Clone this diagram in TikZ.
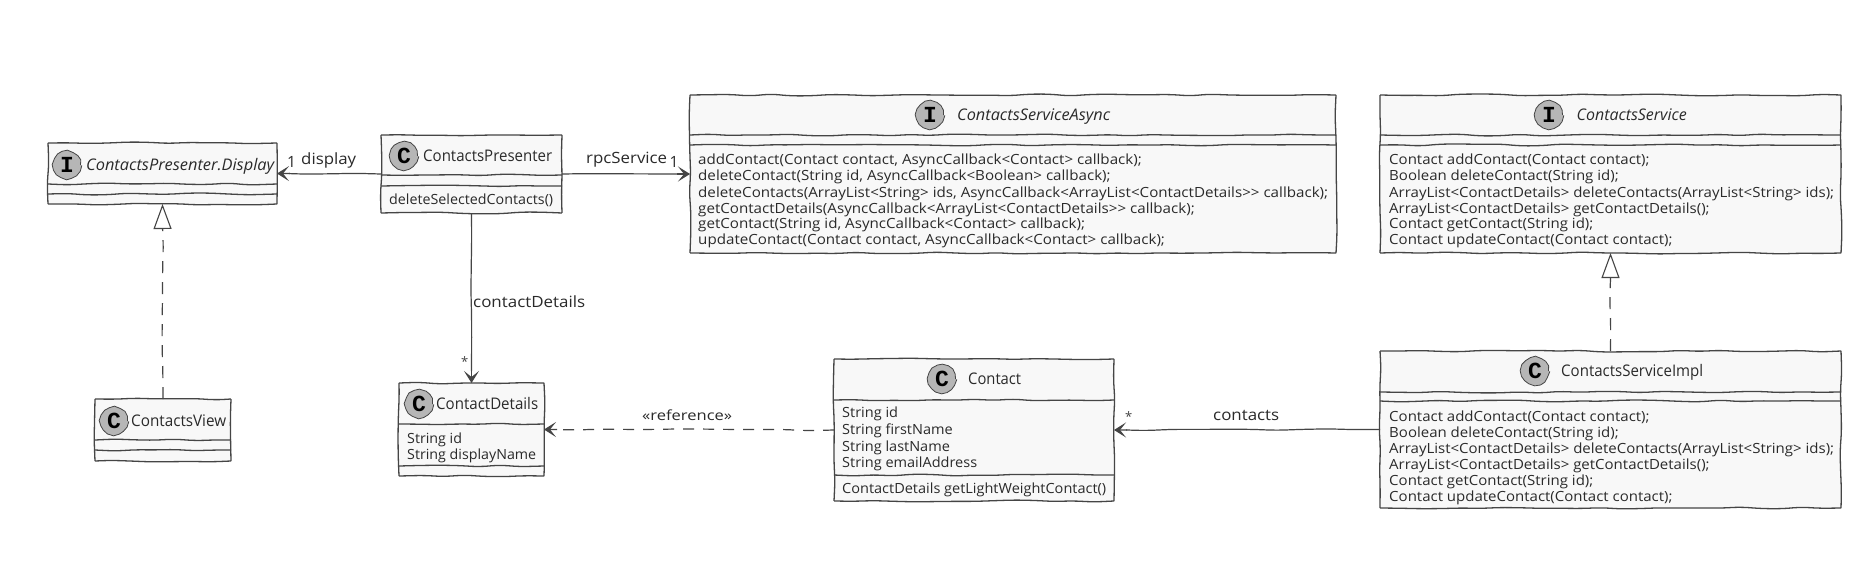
\documentclass[tikz,border=0pt]{standalone}
\usepackage{fontspec}
\usepackage{graphicx}
\setmainfont{Open Sans}
\newfontfamily\iconfont{Liberation Mono}
\usetikzlibrary{arrows.meta,decorations.pathmorphing,calc}
\definecolor{ln}{HTML}{454545}
\definecolor{boxbg}{HTML}{F8F8F8}
\definecolor{icn}{HTML}{B6B6B6}
\definecolor{tx}{HTML}{2A2A2A}
\newlength\fitlen
\newcommand{\fitw}[2]{\settowidth{\fitlen}{#2}\pgfmathsetmacro\fitr{#1/\fitlen}\scalebox{\fitr}[1]{#2}}
\newcommand{\mfont}{\fontsize{14}{16}\selectfont}
\newcommand{\setratio}[2]{\def\refw{#1}\def\reft{#2}}
\tikzset{
  wob/.style={draw=ln,line width=1.3pt,decorate,decoration={random steps,segment length=20pt,amplitude=1pt},rounded corners=8pt},
  boxfill/.style={fill=boxbg,inner sep=0pt,outer sep=0pt},
  iconbase/.style={circle,draw=ln,line width=.8pt,fill=icn,minimum size=27pt,inner sep=0pt,text=black,
    font=\iconfont\bfseries\fontsize{23}{23}\selectfont,decorate,decoration={random steps,segment length=5pt,amplitude=.5pt}},
  ttl/.style={anchor=west,inner sep=0pt,text=tx,text height=12pt,text depth=2pt,font=\fontsize{16}{18}\selectfont},
  ttli/.style={ttl,font=\fontsize{16}{18}\selectfont\itshape},
  mline/.style={anchor=west,inner sep=0pt,text=tx,text height=13pt,text depth=2pt,font=\mfont},
  lbl/.style={anchor=west,inner sep=0pt,text=tx,text height=11pt,text depth=3pt,font=\fontsize{15.5}{18}\selectfont},
  conn/.style={draw=ln,line width=1.2pt,decorate,decoration={random steps,segment length=26pt,amplitude=0.8pt},rounded corners=9pt},
  assocline/.style={conn},
  depline/.style={conn,dash pattern=on 11pt off 9pt},
  realline/.style={conn,dash pattern=on 12pt off 9pt},
  headopen/.style={draw=ln,line width=1.3pt,-{Stealth[length=12pt,width=15pt,inset=6pt]}},
  headtri/.style={draw=ln,line width=1.1pt,-{Triangle[open,fill=white,length=25pt,width=18pt]}},
}
\newcommand{\classbox}[5]{%
  \node[boxfill,minimum width=#4pt,minimum height=#5pt] (#1) at (#2,#3) {};
  \draw[wob] (#1.north west) -- (#1.north east) (#1.north east) -- (#1.south east)
             (#1.south east) -- (#1.south west) (#1.south west) -- (#1.north west);}
\newcommand{\hdiv}[2]{\draw[wob] (#1.west |- 0,#2) -- (#1.east |- 0,#2);}
\newcommand{\ml}[4]{\node[mline] (#1) at (#2,#3) {\settowidth{\fitlen}{\reft}\pgfmathsetmacro\ratio{\refw/\fitlen}\scalebox{\ratio}[1]{#4}};}
% wobbly line, then a straight piece that carries the head
\newcommand{\assocarrow}[2]{\draw[assocline] (#1) -- ($(#2)!12pt!(#1)$); \draw[headopen] ($(#2)!13pt!(#1)$) -- (#2);}
\newcommand{\deparrow}[2]{\draw[depline] (#1) -- ($(#2)!14pt!(#1)$); \draw[headopen] ($(#2)!13pt!(#1)$) -- (#2);}
\newcommand{\realarrow}[2]{\draw[realline] (#1) -- ($(#2)!25pt!(#1)$); \draw[headtri] ($(#2)!25.5pt!(#1)$) -- (#2);}
\begin{document}
\begin{tikzpicture}[x=1pt,y=-1pt]
\useasboundingbox (0,0) rectangle (1860,568);
\fill[white] (0,0) rectangle (1860,568);
\pgfmathsetseed{7}
% Boxes
\classbox{display}{162.5}{173.5}{229}{61}
\hdiv{display}{184}\hdiv{display}{194}
\classbox{presenter}{471.5}{174}{181}{78}
\hdiv{presenter}{175}\hdiv{presenter}{186}
\classbox{view}{163}{430}{136}{62}
\hdiv{view}{440}\hdiv{view}{450}
\classbox{details}{471.5}{429.5}{145}{93}
\hdiv{details}{424}\hdiv{details}{466}
\classbox{async}{1013}{174}{646}{158}
\hdiv{async}{135}\hdiv{async}{145}
\classbox{service}{1610.5}{174}{461}{158}
\hdiv{service}{135}\hdiv{service}{145}
\classbox{impl}{1610.5}{429.5}{461}{157}
\hdiv{impl}{392}\hdiv{impl}{401}
\classbox{contact}{974}{430}{280}{142}
\hdiv{contact}{400}\hdiv{contact}{475}
% Icons
\node[iconbase] (iDisplay) at (67,165) {I};
\node[iconbase] (iPresenter) at (404,156) {C};
\node[iconbase] (iView) at (114,421) {C};
\node[iconbase] (iDetails) at (419,404) {C};
\node[iconbase] (iAsync) at (930,115) {I};
\node[iconbase] (iService) at (1549,115) {I};
\node[iconbase] (iImpl) at (1535,371) {C};
\node[iconbase] (iContact) at (942,379) {C};
% Titles
\node[ttli] (tDisplay) at (86,165) {\fitw{188}{ContactsPresenter.Display}};
\node[ttl] (tPresenter) at (423,156) {\fitw{129}{ContactsPresenter}};
\node[ttl] (tView) at (131,421) {\fitw{95}{ContactsView}};
\node[ttl] (tDetails) at (436,404) {\fitw{102}{ContactDetails}};
\node[ttli] (tAsync) at (957,115) {\fitw{153}{ContactsServiceAsync}};
\node[ttli] (tService) at (1576.5,115) {\fitw{110}{ContactsService}};
\node[ttl] (tImpl) at (1561,371) {\fitw{142}{ContactsServiceImpl}};
\node[ttl] (tContact) at (968,379) {\fitw{53}{Contact}};
% Members
\setratio{164}{deleteSelectedContacts()}
\ml{mP}{389}{199}{deleteSelectedContacts()}
\setratio{129}{String displayName}
\ml{aD1}{407}{438}{String id}
\ml{aD2}{407}{454}{String displayName}
\setratio{630}{deleteContacts(ArrayList<String> ids, AsyncCallback<ArrayList<ContactDetails>{}> callback);}
\ml{a1}{698}{159}{addContact(Contact contact, AsyncCallback<Contact> callback);}
\ml{a2}{698}{175}{deleteContact(String id, AsyncCallback<Boolean> callback);}
\ml{a3}{698}{192}{deleteContacts(ArrayList<String> ids, AsyncCallback<ArrayList<ContactDetails>{}> callback);}
\ml{a4}{698}{208}{getContactDetails(AsyncCallback<ArrayList<ContactDetails>{}> callback);}
\ml{a5}{698}{223}{getContact(String id, AsyncCallback<Contact> callback);}
\ml{a6}{698}{239}{updateContact(Contact contact, AsyncCallback<Contact> callback);}
\setratio{445}{ArrayList<ContactDetails> deleteContacts(ArrayList<String> ids);}
\ml{s1}{1389}{159}{Contact addContact(Contact contact);}
\ml{s2}{1389}{175}{Boolean deleteContact(String id);}
\ml{s3}{1389}{192}{ArrayList<ContactDetails> deleteContacts(ArrayList<String> ids);}
\ml{s4}{1389}{208}{ArrayList<ContactDetails> getContactDetails();}
\ml{s5}{1389}{223}{Contact getContact(String id);}
\ml{s6}{1389}{239}{Contact updateContact(Contact contact);}
\ml{i1}{1389}{416}{Contact addContact(Contact contact);}
\ml{i2}{1389}{432}{Boolean deleteContact(String id);}
\ml{i3}{1389}{448}{ArrayList<ContactDetails> deleteContacts(ArrayList<String> ids);}
\ml{i4}{1389}{464}{ArrayList<ContactDetails> getContactDetails();}
\ml{i5}{1389}{480}{Contact getContact(String id);}
\ml{i6}{1389}{496}{Contact updateContact(Contact contact);}
\setratio{264}{ContactDetails getLightWeightContact()}
\ml{c1}{842}{412}{String id}
\ml{c2}{842}{429}{String firstName}
\ml{c3}{842}{446}{String lastName}
\ml{c4}{842}{462}{String emailAddress}
\ml{c5}{842}{488}{ContactDetails getLightWeightContact()}
% Connectors
\assocarrow{presenter.west}{display.east}
\assocarrow{presenter.east}{async.west}
\assocarrow{presenter.south}{details.north}
\realarrow{view.north}{display.south}
\realarrow{impl.north}{service.south}
\deparrow{contact.west}{details.east}
\assocarrow{impl.west}{contact.east}
% Connector labels
\node[lbl] (lDisp1) at (287,163) {1};
\node[lbl] (lDisp) at (301,160) {\fitw{55}{display}};
\node[lbl] (lRpc) at (586,159) {\fitw{81}{rpcService}};
\node[lbl] (lRpc1) at (669.5,163) {1};
\node[lbl] (lDet) at (473,303) {\fitw{112}{contactDetails}};
\node[lbl,font=\fontsize{13}{15}\selectfont,text=ln] (lStar1) at (461,362) {*};
\node[lbl,font=\fontsize{14}{17}\selectfont] (lRef) at (642,416) {\fitw{90}{«reference»}};
\node[lbl] (lCon) at (1213,416) {\fitw{66}{contacts}};
\node[lbl,font=\fontsize{13}{15}\selectfont,text=ln] (lStar2) at (1125,417) {*};
\end{tikzpicture}
\end{document}
